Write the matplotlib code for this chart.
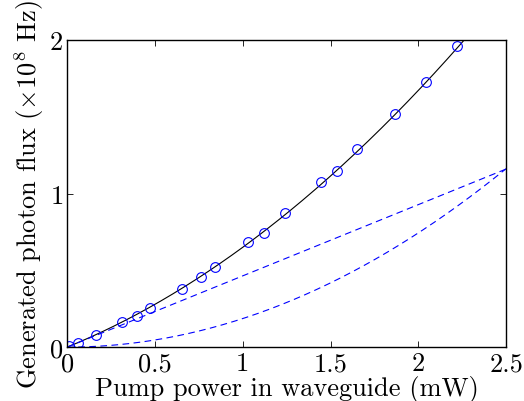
import numpy as np
import matplotlib
matplotlib.use('Agg')
from matplotlib import pyplot as plt

# measured points (pump power in mW, photon flux in 1e8 Hz)
power = [0.011, 0.061, 0.163, 0.312, 0.400, 0.473, 0.653, 0.765, 0.841,
         1.032, 1.120, 1.243, 1.443, 1.538, 1.653, 1.868, 2.046, 2.221]
flux = [0.005, 0.028, 0.076, 0.161, 0.204, 0.254, 0.378, 0.454, 0.523,
        0.686, 0.740, 0.873, 1.076, 1.145, 1.292, 1.518, 1.724, 1.958]

# fit y = a*P + b*P^2 (linear and quadratic parts shown dashed)
coefLin = 0.464
coefQuad = 0.186

plt.rcParams['font.family'] = 'cmr10'
plt.rcParams['mathtext.fontset'] = 'cm'
plt.rcParams['axes.formatter.use_mathtext'] = True
plt.rcParams['font.size'] = 19

fig = plt.figure(figsize=(5.24, 4.02), dpi=100)
ax = fig.add_axes([0.128, 0.134, 0.838, 0.764])

P = np.linspace(0, 2.5, 300)
ax.plot(P, coefLin * P + coefQuad * P**2, 'k-', linewidth=0.8)
ax.plot(P, coefLin * P, '--', color='#0000ff', linewidth=0.8, dashes=(6, 4))
ax.plot(P, coefQuad * P**2, '--', color='#0000ff', linewidth=0.8, dashes=(6, 4))
ax.plot(power, flux, 'o', mfc='none', mec='#0000ff', markersize=7, mew=0.8)

ax.set_xlim(0, 2.5)
ax.set_ylim(0, 2)
ax.set_xticks([0, 0.5, 1, 1.5, 2, 2.5])
ax.set_xticklabels(['0', '0.5', '1', '1.5', '2', '2.5'])
ax.set_yticks([0, 1, 2])
ax.tick_params(direction='in', top=True, right=True, length=4, width=0.6, pad=3)
for s in ax.spines.values():
    s.set_linewidth(1.0)

ax.set_xlabel('Pump power in waveguide (mW)', labelpad=0)
ax.set_ylabel(r'Generated photon flux ($\times10^8$ Hz)', labelpad=2)

fig.savefig('out.png', dpi=100)
